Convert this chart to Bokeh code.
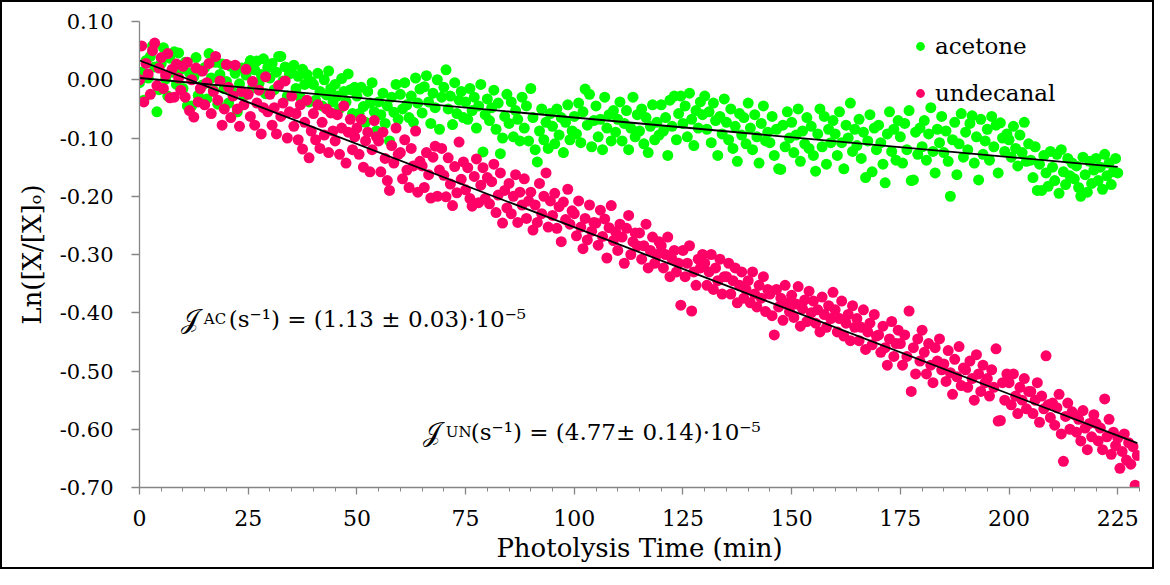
import numpy as np
from bokeh.plotting import figure
from bokeh.models import (ColumnDataSource, Legend, LegendItem, Label, FixedTicker,
                          Range1d, NumeralTickFormatter)
from bokeh.embed import file_html
from bokeh.resources import INLINE

# ---------------- data ----------------
time_step_min = 0.5

acetone_ln = [
    -0.005, 0.013, -0.035, 0.033, 0.003, 0.040, 0.058, 0.022, -0.055, -0.017,
    0.028, 0.055, 0.001, -0.028, 0.037, 0.013, 0.048, -0.008, 0.046, 0.018,
    -0.015, 0.030, -0.045, 0.012, -0.045, 0.005, 0.038, -0.027, 0.015, -0.009,
    0.021, -0.033, 0.045, 0.003, -0.018, 0.030, -0.042, 0.009, 0.027, -0.015,
    -0.003, -0.040, 0.023, -0.022, 0.011, -0.055, -0.007, 0.020, -0.028, 0.008,
    0.024, 0.033, -0.014, 0.017, 0.032, -0.006, 0.009, 0.036, -0.024, 0.021,
    0.003, 0.028, -0.017, 0.013, 0.040, 0.040, -0.002, 0.022, -0.028, 0.010,
    0.012, 0.025, -0.015, 0.006, -0.030, 0.018, -0.008, 0.009, -0.038, -0.003,
    -0.008, -0.035, 0.011, -0.020, -0.045, 0.000, -0.026, 0.015, -0.015, -0.038,
    -0.008, -0.028, -0.050, 0.002, -0.020, -0.038, 0.010, -0.017, -0.058, -0.013,
    -0.028, -0.058, -0.013, -0.046, -0.073, -0.020, -0.040, -0.005, -0.055, -0.088,
    -0.038, -0.060, -0.023, -0.075, -0.045, -0.105, -0.030, -0.056, -0.008, -0.068,
    -0.025, -0.050, -0.005, -0.043, -0.065, -0.028, -0.073, 0.003, -0.040, -0.016,
    -0.057, -0.012, 0.007, -0.038, -0.075, -0.023, -0.048, 0.000, -0.085, -0.030,
    -0.013, 0.017, -0.050, -0.028, -0.077, -0.005, -0.058, -0.035, -0.020, -0.065,
    -0.038, -0.068, -0.015, -0.053, -0.030, -0.083, -0.045, -0.008, -0.124, -0.060,
    -0.033, -0.070, -0.048, -0.018, -0.085, -0.040, -0.127, -0.100, -0.063, -0.025,
    -0.075, -0.038, -0.098, -0.053, -0.068, -0.105, -0.030, -0.083, -0.045, -0.105,
    -0.015, -0.065, -0.120, -0.141, -0.088, -0.050, -0.103, -0.073, -0.118, -0.058,
    -0.080, -0.110, -0.050, -0.095, -0.065, -0.125, -0.073, -0.043, -0.103, -0.088,
    -0.063, -0.093, -0.040, -0.108, -0.055, -0.016, -0.078, -0.025, -0.115, -0.070,
    -0.045, -0.098, -0.068, -0.120, -0.030, -0.083, -0.060, -0.105, -0.053, -0.090,
    -0.068, -0.038, -0.105, -0.075, -0.053, -0.120, -0.083, -0.030, -0.098, -0.060,
    -0.088, -0.050, -0.110, -0.065, -0.125, -0.080, -0.043, -0.103, -0.073, -0.095,
    -0.043, -0.088, -0.065, -0.130, -0.035, -0.080, -0.028, -0.103, -0.058, -0.028,
    -0.075, -0.045, -0.098, -0.023, -0.068, -0.113, -0.053, -0.083, -0.038, -0.060,
    -0.028, -0.085, -0.055, -0.108, -0.040, -0.070, -0.130, -0.063, -0.093, -0.033,
    -0.073, -0.103, -0.050, -0.118, -0.080, -0.140, -0.058, -0.095, -0.065, -0.110,
    -0.040, -0.083, -0.120, -0.060, -0.098, -0.143, -0.075, -0.045, -0.105, -0.090,
    -0.108, -0.063, -0.130, -0.085, -0.153, -0.154, -0.078, -0.115, -0.055, -0.100,
    -0.073, -0.125, -0.095, -0.050, -0.140, -0.088, -0.110, -0.065, -0.118, -0.080,
    -0.130, -0.157, -0.093, -0.050, -0.115, -0.063, -0.145, -0.085, -0.108, -0.070,
    -0.093, -0.130, -0.055, -0.108, -0.153, -0.078, -0.100, -0.040, -0.123, -0.085,
    -0.113, -0.068, -0.135, -0.090, -0.168, -0.105, -0.060, -0.158, -0.083, -0.120,
    -0.078, -0.108, -0.145, -0.177, -0.093, -0.055, -0.123, -0.085, -0.138, -0.070,
    -0.098, -0.143, -0.075, -0.120, -0.053, -0.173, -0.172, -0.090, -0.128, -0.083,
    -0.115, -0.070, -0.138, -0.093, -0.048, -0.123, -0.160, -0.085, -0.108, -0.063,
    -0.125, -0.088, -0.140, -0.200, -0.103, -0.073, -0.163, -0.110, -0.058, -0.133,
    -0.090, -0.120, -0.075, -0.062, -0.143, -0.098, -0.172, -0.068, -0.128, -0.105,
    -0.085, -0.138, -0.063, -0.115, -0.078, -0.160, -0.074, -0.100, -0.123, -0.093,
    -0.103, -0.133, -0.080, -0.118, -0.148, -0.095, -0.125, -0.073, -0.140, -0.110,
    -0.138, -0.168, -0.115, -0.190, -0.145, -0.190, -0.130, -0.160, -0.183, -0.123,
    -0.150, -0.173, -0.128, -0.195, -0.120, -0.158, -0.180, -0.135, -0.165, -0.143,
    -0.170, -0.148, -0.185, -0.200, -0.133, -0.163, -0.193, -0.140, -0.178, -0.155,
    -0.135, -0.173, -0.150, -0.188, -0.128, -0.165, -0.143, -0.180, -0.158, -0.135,
    -0.160,
]

undecanal_ln = [
    0.000, 0.058, -0.038, 0.028, 0.010, -0.025, 0.050, 0.063, -0.010, 0.020,
    0.038, -0.015, 0.008, 0.045, -0.031, 0.018, -0.030, 0.027, 0.003, -0.018,
    0.023, -0.030, 0.030, -0.053, 0.000, -0.064, 0.020, -0.038, -0.015, 0.015,
    -0.043, -0.005, 0.028, -0.058, -0.020, 0.040, -0.035, -0.002, -0.078, -0.050,
    0.026, -0.013, -0.065, -0.028, 0.025, -0.050, -0.080, -0.020, -0.043, 0.018,
    -0.025, -0.063, -0.003, -0.078, -0.040, -0.018, -0.093, -0.048, 0.005, -0.055,
    -0.025, -0.078, -0.048, -0.093, -0.010, -0.063, -0.040, -0.002, -0.100, -0.055,
    -0.028, -0.080, -0.058, -0.103, -0.043, -0.119, -0.073, -0.035, -0.134, -0.088,
    -0.058, -0.103, -0.043, -0.118, -0.073, -0.095, -0.050, -0.125, -0.057, -0.088,
    -0.105, -0.060, -0.128, -0.083, -0.045, -0.143, -0.090, -0.068, -0.120, -0.098,
    -0.083, -0.128, -0.068, -0.150, -0.105, -0.090, -0.158, -0.120, -0.070, -0.098,
    -0.105, -0.158, -0.090, -0.135, -0.173, -0.190, -0.113, -0.143, -0.083, -0.128,
    -0.125, -0.170, -0.103, -0.155, -0.185, -0.118, -0.148, -0.088, -0.193, -0.140,
    -0.148, -0.185, -0.125, -0.163, -0.203, -0.133, -0.114, -0.200, -0.155, -0.118,
    -0.164, -0.201, -0.134, -0.179, -0.216, -0.149, -0.194, -0.107, -0.171, -0.141,
    -0.189, -0.151, -0.204, -0.217, -0.166, -0.136, -0.211, -0.181, -0.151, -0.204,
    -0.168, -0.213, -0.175, -0.145, -0.228, -0.198, -0.160, -0.246, -0.190, -0.220,
    -0.178, -0.230, -0.200, -0.163, -0.245, -0.193, -0.215, -0.170, -0.238, -0.208,
    -0.193, -0.258, -0.215, -0.245, -0.178, -0.230, -0.200, -0.160, -0.253, -0.208,
    -0.233, -0.195, -0.255, -0.218, -0.278, -0.210, -0.240, -0.188, -0.248, -0.225,
    -0.230, -0.268, -0.208, -0.253, -0.290, -0.238, -0.275, -0.215, -0.260, -0.245,
    -0.246, -0.284, -0.224, -0.269, -0.239, -0.306, -0.254, -0.216, -0.276, -0.261,
    -0.293, -0.248, -0.270, -0.315, -0.255, -0.233, -0.300, -0.278, -0.263, -0.285,
    -0.263, -0.308, -0.285, -0.248, -0.323, -0.293, -0.270, -0.315, -0.300, -0.278,
    -0.285, -0.323, -0.300, -0.270, -0.338, -0.308, -0.293, -0.330, -0.315, -0.387,
    -0.293, -0.338, -0.315, -0.285, -0.397, -0.330, -0.353, -0.308, -0.323, -0.300,
    -0.315, -0.353, -0.330, -0.300, -0.360, -0.323, -0.345, -0.308, -0.368, -0.338,
    -0.338, -0.315, -0.368, -0.345, -0.323, -0.383, -0.353, -0.330, -0.375, -0.360,
    -0.345, -0.383, -0.330, -0.368, -0.390, -0.353, -0.375, -0.338, -0.398, -0.360,
    -0.368, -0.405, -0.438, -0.360, -0.390, -0.375, -0.413, -0.353, -0.383, -0.398,
    -0.370, -0.408, -0.385, -0.355, -0.423, -0.393, -0.378, -0.415, -0.363, -0.400,
    -0.380, -0.418, -0.395, -0.433, -0.373, -0.403, -0.425, -0.388, -0.410, -0.365,
    -0.395, -0.433, -0.410, -0.380, -0.440, -0.418, -0.403, -0.448, -0.388, -0.425,
    -0.410, -0.448, -0.425, -0.395, -0.463, -0.433, -0.418, -0.455, -0.403, -0.440,
    -0.438, -0.468, -0.423, -0.460, -0.490, -0.445, -0.415, -0.475, -0.453, -0.430,
    -0.453, -0.490, -0.438, -0.475, -0.397, -0.535, -0.460, -0.505, -0.445, -0.483,
    -0.430, -0.468, -0.505, -0.453, -0.490, -0.520, -0.460, -0.483, -0.445, -0.498,
    -0.488, -0.518, -0.465, -0.503, -0.540, -0.480, -0.510, -0.458, -0.525, -0.495,
    -0.498, -0.528, -0.483, -0.513, -0.550, -0.472, -0.505, -0.535, -0.490, -0.520,
    -0.513, -0.543, -0.498, -0.528, -0.462, -0.586, -0.585, -0.520, -0.550, -0.505,
    -0.520, -0.558, -0.505, -0.543, -0.573, -0.528, -0.550, -0.513, -0.565, -0.535,
    -0.535, -0.573, -0.550, -0.520, -0.588, -0.543, -0.565, -0.474, -0.558, -0.580,
    -0.555, -0.593, -0.563, -0.540, -0.608, -0.655, -0.578, -0.555, -0.600, -0.570,
    -0.575, -0.605, -0.583, -0.620, -0.568, -0.598, -0.635, -0.590, -0.613, -0.575,
    -0.590, -0.620, -0.598, -0.635, -0.548, -0.613, -0.583, -0.643, -0.605, -0.628,
    -0.615, -0.667, -0.638, -0.608, -0.653, -0.623, -0.660, -0.630, -0.696, -0.645,
]

series_names = ["acetone", "undecanal"]
series_colors = ["#00FF00", "#FF0066"]

# photolysis rate constants (s^-1) from the annotations, intercepts
rate_constants = [1.13e-5, 4.77e-5]
fit_intercepts = [0.003, 0.033]
annotation_subscripts = ["AC", "UN"]
annotation_bodies = ["(s\u207b\u00b9) = (1.13 \u00b1 0.03)\u00b710\u207b\u2075",
                     "(s\u207b\u00b9) = (4.77\u00b1 0.14)\u00b710\u207b\u2075"]

x_ticks = [0, 25, 50, 75, 100, 125, 150, 175, 200, 225]
x_minor_ticks = [0, 5, 10, 15, 20, 25, 30, 35, 40, 45, 50, 55, 60, 65, 70, 75, 80, 85,
                 90, 95, 100, 105, 110, 115, 120, 125, 130, 135, 140, 145, 150, 155,
                 160, 165, 170, 175, 180, 185, 190, 195, 200, 205, 210, 215, 220, 225, 230]
y_ticks = [0.10, 0.00, -0.10, -0.20, -0.30, -0.40, -0.50, -0.60, -0.70]

# ---------------- figure ----------------
FONT = "DejaVu Serif"
AXIS_GREY = "#868686"

p = figure(width=1154, height=569, x_range=Range1d(0, 230), y_range=Range1d(-0.70, 0.10),
           output_backend="svg", toolbar_location=None,
           min_border_left=139, min_border_right=15, min_border_top=21, min_border_bottom=82)
p.styles = {"box-shadow": "inset 0 0 0 2px black", "background-color": "white"}
p.outline_line_color = None
p.xgrid.visible = False
p.ygrid.visible = False
p.background_fill_color = "white"
p.border_fill_alpha = 0

series_values = [acetone_ln, undecanal_ln]
renderers = []
for vals, color in zip(series_values, series_colors):
    t = np.arange(len(vals)) * time_step_min
    src = ColumnDataSource(data=dict(t=t, v=np.array(vals)))
    r = p.scatter("t", "v", source=src, size=11, fill_color=color, line_color=None)
    renderers.append(r)

# linear fits  ln([X]/[X]0) = b - J*t  (J converted to min^-1)
for vals, k, b in zip(series_values, rate_constants, fit_intercepts):
    t_end = (len(vals) - 1) * time_step_min
    tt = np.array([0.0, t_end])
    p.line(tt, b - k * 60.0 * tt, line_color="black", line_width=1.8)

# axes
p.xaxis.ticker = FixedTicker(ticks=x_ticks, minor_ticks=x_minor_ticks)
p.yaxis.ticker = FixedTicker(ticks=y_ticks, minor_ticks=[])
p.yaxis.formatter = NumeralTickFormatter(format="0.00")
for ax in (p.xaxis[0], p.yaxis[0]):
    ax.axis_line_color = AXIS_GREY
    ax.axis_line_width = 1.3
    ax.major_tick_line_color = AXIS_GREY
    ax.minor_tick_line_color = AXIS_GREY
    ax.major_tick_line_width = 1.3
    ax.major_tick_in = 0
    ax.minor_tick_in = 0
    ax.major_label_text_font = FONT
    ax.major_label_text_color = "black"
    ax.axis_label_text_font = FONT
    ax.axis_label_text_font_style = "normal"
    ax.axis_label_text_color = "black"

p.xaxis.major_tick_out = 7
p.xaxis.minor_tick_out = 4
p.xaxis.major_label_text_font_size = "22px"
p.xaxis.major_label_standoff = 15
p.xaxis.axis_label = "Photolysis Time (min)"
p.xaxis.axis_label_text_font_size = "26px"
p.xaxis.axis_label_standoff = 4

p.yaxis.major_tick_out = 8
p.yaxis.minor_tick_out = 0
p.yaxis.major_label_text_font_size = "21px"
p.yaxis.major_label_standoff = 18
p.yaxis.axis_label = "Ln([X/[X]\u2092)"
p.yaxis.axis_label_text_font_size = "26px"
p.yaxis.axis_label_standoff = 10

# legend
legend = Legend(items=[LegendItem(label=n, renderers=[r]) for n, r in zip(series_names, renderers)],
                location=(770, 380), orientation="vertical",
                label_text_font=FONT, label_text_font_size="23px", label_text_color="black",
                glyph_width=22, glyph_height=28, label_height=28, label_standoff=4,
                spacing=19, padding=0, margin=0,
                border_line_color=None, background_fill_alpha=0)
p.add_layout(legend)

# rate-constant annotations (script J, small-caps subscript, body)
anchors = [(9.5, -0.410), (65.16, -0.604)]
for (ax_, ay_), sub, body in zip(anchors, annotation_subscripts, annotation_bodies):
    p.add_layout(Label(x=ax_, y=ay_, text="\U0001D4A5", text_font=FONT,
                       text_font_size="26px", text_baseline="alphabetic", text_color="black"))
    p.add_layout(Label(x=ax_, y=ay_, x_offset=23, text=sub, text_font=FONT,
                       text_font_size="15px", text_baseline="alphabetic", text_color="black"))
    p.add_layout(Label(x=ax_, y=ay_, x_offset=48, text=body, text_font=FONT,
                       text_font_size="23px", text_baseline="alphabetic", text_color="black"))

open("out.html", "w").write(file_html(p, INLINE))
